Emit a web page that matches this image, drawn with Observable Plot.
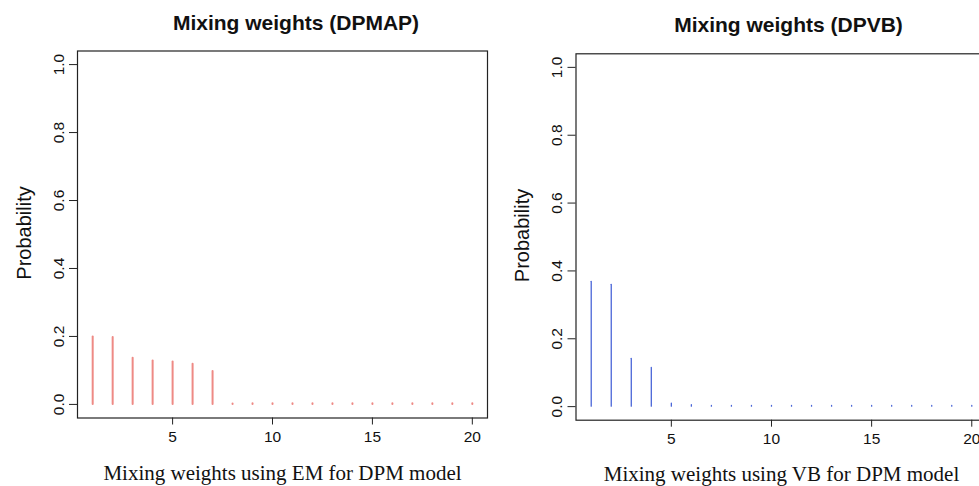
<!DOCTYPE html>
<html><head><meta charset="utf-8">
<script src="https://cdn.jsdelivr.net/npm/d3@7"></script>
<script src="https://cdn.jsdelivr.net/npm/@observablehq/plot@0.6"></script>
<style>
html,body{margin:0;padding:0;background:#fff;}
#wrap{position:relative;width:979px;height:486px;overflow:hidden;background:#fff;}
#left{position:absolute;left:0;top:0;width:490px;height:486px;}
#right{position:absolute;left:490px;top:0;width:500px;height:486px;}
svg{max-width:none !important;}
</style></head><body>
<div id="wrap"><div id="left"></div><div id="right"></div></div>
<script>
const components = [1,2,3,4,5,6,7,8,9,10,11,12,13,14,15,16,17,18,19,20];
const weightsEM = [0.198,0.197,0.136,0.128,0.125,0.118,0.097,0.001,0.002,0.002,0.002,0.002,0.002,0.002,0.002,0.002,0.002,0.002,0.002,0.002];
const weightsVB = [0.368,0.359,0.141,0.114,0.009,0.004,0.002,0.002,0.002,0.002,0.002,0.002,0.002,0.002,0.002,0.002,0.002,0.002,0.002,0.002];
const yTicks = [0,0.2,0.4,0.6,0.8,1.0];
const xTicks = [5,10,15,20];
const titleEM = "Mixing weights (DPMAP)";
const titleVB = "Mixing weights (DPVB)";
const captionEM = "Mixing weights using EM for DPM model";
const captionVB = "Mixing weights using VB for DPM model";
const yLabel = "Probability";

const sans = "'Liberation Sans', Arial, Helvetica, sans-serif";
const serif = "'Liberation Serif', 'Times New Roman', serif";

function panel({weights, color, lw, title, caption, width, mL, mR, mT, mB, titleDx, capDy}) {
  const data = components.map((k, i) => ({k, w: weights[i]}));
  return Plot.plot({
    width, height: 486,
    marginLeft: mL, marginRight: mR, marginTop: mT, marginBottom: mB,
    x: {domain: [0.24, 20.76]},
    y: {domain: [-0.04, 1.04]},
    style: {fontFamily: sans, background: "white", overflow: "visible", color: "#111"},
    marks: [
      Plot.ruleX(data, {x: "k", y1: 0, y2: "w", stroke: color, strokeWidth: lw, strokeLinecap: "round"}),
      Plot.frame({stroke: "#222", strokeWidth: 1.2}),
      Plot.axisX({ticks: xTicks, tickSize: 7, tickPadding: 5.5, fontSize: 15.5, label: null, stroke: "#222"}),
      Plot.axisY({ticks: yTicks, tickSize: 8, tickPadding: 6, tickRotate: -90, fontSize: 15.5, tickFormat: d3.format(".1f"), label: null, stroke: "#222"}),
      Plot.text([title], {frameAnchor: "top", lineAnchor: "bottom", dy: -21.5, dx: titleDx, fontWeight: "bold", fontSize: 21, fill: "#111"}),
      Plot.text([caption], {frameAnchor: "bottom", lineAnchor: "bottom", dy: capDy, fontFamily: serif, fontSize: 21, fill: "#111"}),
      Plot.text([yLabel], {frameAnchor: "left", textAnchor: "middle", lineAnchor: "bottom", rotate: -90, dx: -47, dy: -1.5, fontSize: 20, fill: "#111"})
    ]
  });
}

document.getElementById("left").append(panel({
  weights: weightsEM, color: "#EE8A85", lw: 2, title: titleEM, caption: captionEM,
  width: 490, mL: 77, mR: 3, mT: 50.5, mB: 68.5, titleDx: 13.5, capDy: 62
}));
document.getElementById("right").append(panel({
  weights: weightsVB, color: "#4A66D8", lw: 1.3, title: titleVB, caption: captionVB,
  width: 500, mL: 85.5, mR: 3.5, mT: 53.3, mB: 66.3, titleDx: 7, capDy: 60.5
}));
</script>
</body></html>
